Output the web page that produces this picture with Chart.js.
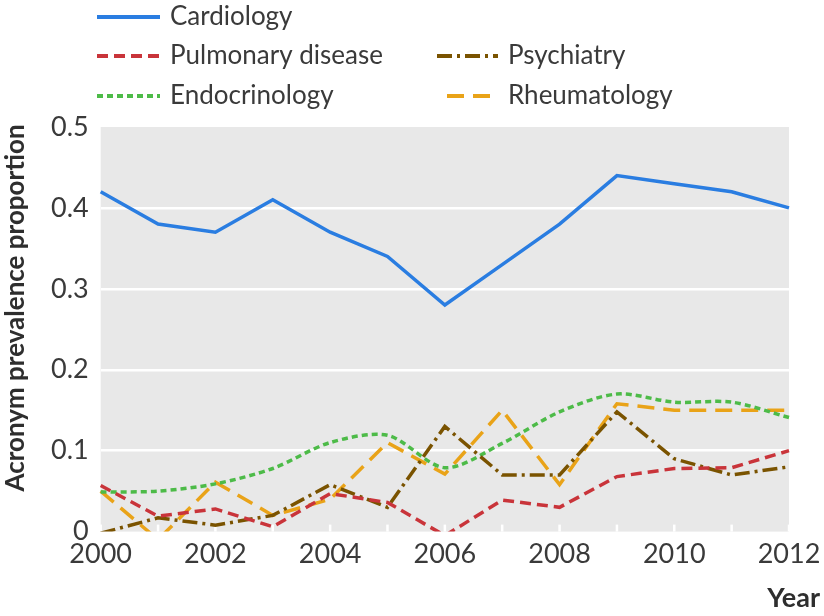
<!DOCTYPE html>
<html>
<head>
<meta charset="utf-8">
<script src="https://cdn.jsdelivr.net/npm/chart.js@4"></script>
<style>
  html, body { margin: 0; padding: 0; background: #fff; }
  #wrap { width: 824px; height: 616px; }
</style>
</head>
<body>
<div id="wrap"><canvas id="chart"></canvas></div>
<script>
const years = ['2000','2001','2002','2003','2004','2005','2006','2007','2008','2009','2010','2011','2012'];
const cardiology    = [0.42, 0.38, 0.37, 0.41, 0.37, 0.34, 0.28, 0.33, 0.38, 0.44, 0.43, 0.42, 0.40];
const pulmonary     = [0.057, 0.019, 0.028, 0.006, 0.047, 0.036, -0.005, 0.039, 0.03, 0.068, 0.078, 0.079, 0.1];
const psychiatry    = [-0.002, 0.017, 0.008, 0.02, 0.058, 0.03, 0.13, 0.07, 0.07, 0.148, 0.09, 0.07, 0.08];
const endocrinology = [0.049, 0.05, 0.059, 0.078, 0.11, 0.119, 0.079, 0.109, 0.148, 0.17, 0.16, 0.16, 0.141];
const rheumatology  = [0.05, -0.01, 0.061, 0.02, 0.04, 0.11, 0.071, 0.15, 0.058, 0.158, 0.15, 0.15, 0.15];

const FONT = "Lato, 'Open Sans', sans-serif";
const TEXT = '#3a3a3a';

function line(label, data, color, dash, extra) {
  return Object.assign({
    label: label,
    data: data,
    borderColor: color,
    backgroundColor: color,
    borderWidth: 3.5,
    borderDash: dash,
    pointRadius: 0,
    tension: 0,
    fill: false
  }, extra || {});
}

// where each legend entry sits: [dataset index, line x0, line x1, text x, y]
const legendSlots = [
  [0, 97, 160, 170, 17],
  [1, 97, 160, 170, 56],
  [2, 437, 498, 508, 56],
  [3, 97, 160, 170, 96],
  [4, 447, 498, 508, 96]
];

const decor = {
  id: 'decor',
  beforeDraw(chart) {
    const { ctx, chartArea: a } = chart;
    ctx.save();
    ctx.fillStyle = '#e8e8e8';
    ctx.fillRect(a.left, a.top, a.right - a.left, a.bottom - a.top);
    ctx.restore();
  },
  beforeDatasetsDraw(chart) {
    const { ctx, chartArea: a, scales } = chart;
    ctx.save();
    ctx.strokeStyle = '#ffffff';
    ctx.lineWidth = 2.5;
    scales.x.ticks.forEach((t, i) => {
      const x = scales.x.getPixelForTick(i);
      ctx.beginPath();
      ctx.moveTo(x, a.bottom);
      ctx.lineTo(x, a.bottom - 7);
      ctx.stroke();
    });
    ctx.restore();
  },
  afterDraw(chart) {
    const { ctx } = chart;
    ctx.save();
    // legend
    ctx.textBaseline = 'middle';
    ctx.font = '26px ' + FONT;
    legendSlots.forEach(([i, x0, x1, tx, y]) => {
      const ds = chart.data.datasets[i];
      ctx.strokeStyle = ds.borderColor;
      ctx.lineWidth = 4;
      ctx.setLineDash(ds.borderDash || []);
      ctx.beginPath();
      ctx.moveTo(x0, y);
      ctx.lineTo(x1, y);
      ctx.stroke();
      ctx.setLineDash([]);
      ctx.fillStyle = TEXT;
      ctx.textAlign = 'left';
      ctx.fillText(ds.label, tx, y);
    });
    // axis titles
    ctx.fillStyle = '#2e2e2e';
    ctx.font = 'bold 26px ' + FONT;
    ctx.translate(16, 308);
    ctx.rotate(-Math.PI / 2);
    ctx.textAlign = 'center';
    ctx.fillText('Acronym prevalence proportion', 0, 0);
    ctx.restore();
    ctx.save();
    ctx.fillStyle = '#2e2e2e';
    ctx.font = 'bold 27px ' + FONT;
    ctx.textAlign = 'right';
    ctx.textBaseline = 'middle';
    ctx.fillText('Year', 820, 598);
    ctx.restore();
  }
};

new Chart(document.getElementById('chart').getContext('2d'), {
  type: 'line',
  data: {
    labels: years,
    datasets: [
      line('Cardiology', cardiology, '#2a7de1', [], { borderWidth: 3.5 }),
      line('Pulmonary disease', pulmonary, '#c9343a', [11, 6]),
      line('Psychiatry', psychiatry, '#7a5300', [15, 5, 3, 5]),
      line('Endocrinology', endocrinology, '#4dbb48', [6, 4], { tension: 0.3 }),
      line('Rheumatology', rheumatology, '#e9a318', [17, 9])
    ]
  },
  options: {
    responsive: true,
    maintainAspectRatio: false,
    animation: false,
    layout: { padding: { top: 127, left: 39, right: 35, bottom: 48 } },
    plugins: {
      legend: { display: false },
      tooltip: { enabled: false }
    },
    scales: {
      x: {
        offset: false,
        grid: { display: false },
        border: { display: false },
        ticks: {
          color: TEXT,
          font: { family: FONT, size: 27 },
          autoSkip: false,
          maxRotation: 0,
          padding: -2,
          callback: function(v, i) { return i % 2 === 0 ? this.getLabelForValue(v) : ''; }
        }
      },
      y: {
        min: 0,
        max: 0.5,
        border: { display: false },
        grid: {
          color: ctx => (ctx.tick && (ctx.tick.value === 0 || ctx.tick.value === 0.5)) ? 'rgba(0,0,0,0)' : '#ffffff',
          lineWidth: 2.5,
          drawTicks: false
        },
        ticks: {
          stepSize: 0.1,
          color: TEXT,
          font: { family: FONT, size: 27 },
          padding: 12,
          callback: v => v === 0 ? '0' : v.toFixed(1)
        }
      }
    }
  },
  plugins: [decor]
});
</script>
</body>
</html>
